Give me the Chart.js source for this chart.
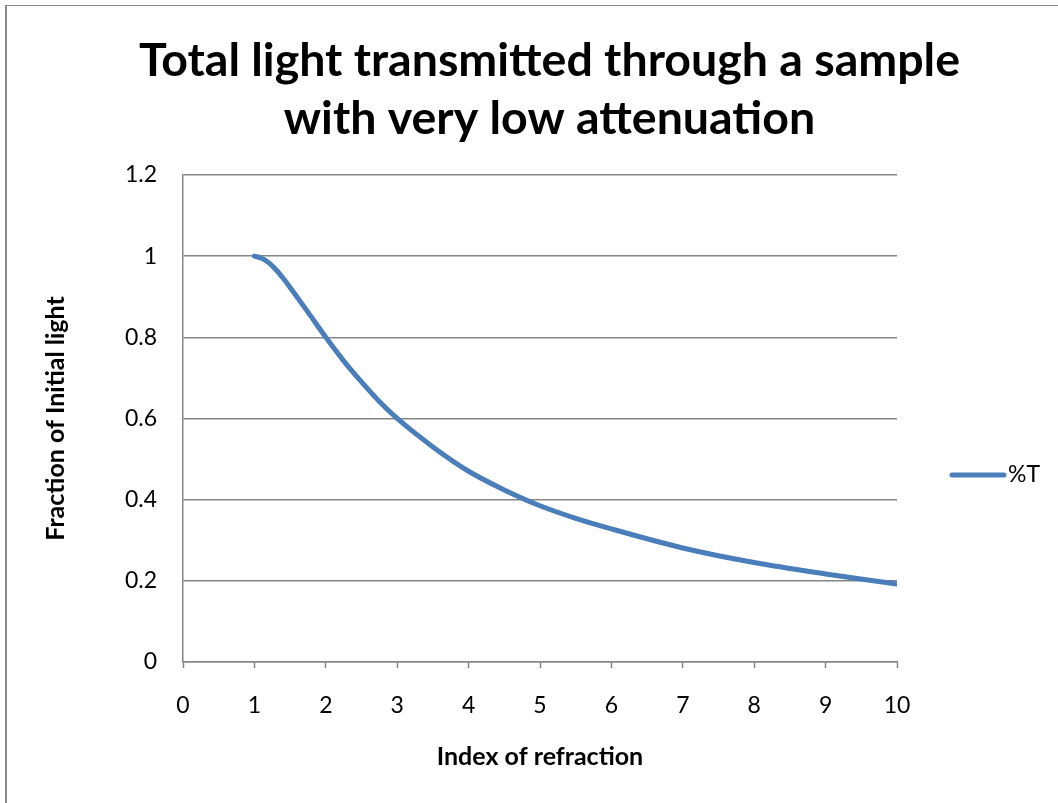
<!DOCTYPE html>
<html>
<head>
<meta charset="utf-8">
<script src="https://cdn.jsdelivr.net/npm/chart.js@4.4.1/dist/chart.umd.min.js"></script>
<style>
  html, body { margin: 0; padding: 0; background: #fff; }
  #wrap { position: relative; width: 1058px; height: 803px; }
  #frame { position: absolute; left: 5px; top: 5px; width: 1100px; height: 900px;
           border-left: 2px solid #8a8a8a; border-top: 1px solid #8a8a8a; }
  canvas { position: absolute; left: 0; top: 0; }
</style>
</head>
<body>
<div id="wrap">
  <div id="frame"></div>
  <canvas id="c" width="1058" height="803"></canvas>
</div>
<script>
const chartTitle = ['Total light transmitted through a sample', 'with very low attenuation'];
const seriesName = '%T';
const xTitle = 'Index of refraction';
const yTitle = 'Fraction of Initial light';

const indexValues = [1, 1.1, 1.2, 1.3, 1.4, 1.5, 1.75, 2, 2.25, 2.5, 2.75, 3, 3.5, 4, 4.5, 5, 5.5, 6, 7, 8, 9, 10];
const transmitted = [1, 0.995, 0.984, 0.967, 0.946, 0.923, 0.862, 0.8, 0.742, 0.69, 0.642, 0.6, 0.53, 0.47, 0.424, 0.385, 0.354, 0.328, 0.281, 0.245, 0.217, 0.192];

const xTickLabels = ['0','1','2','3','4','5','6','7','8','9','10'];
const yTickLabels = ['0','0.2','0.4','0.6','0.8','1','1.2'];

const FONT = 'Lato, "Open Sans", sans-serif';
const LINE_COLOR = '#4A7EBB';
const GRID = '#868686';

const legendPlugin = {
  id: 'sideLegend',
  afterDraw(chart) {
    const ctx = chart.ctx;
    const ds = chart.data.datasets[0];
    const y = 475;
    ctx.save();
    ctx.strokeStyle = ds.borderColor;
    ctx.lineWidth = 5;
    ctx.lineCap = 'round';
    ctx.beginPath();
    ctx.moveTo(952, y);
    ctx.lineTo(1004, y);
    ctx.stroke();
    ctx.fillStyle = '#000';
    ctx.font = '23px ' + FONT;
    ctx.textBaseline = 'middle';
    ctx.textAlign = 'left';
    ctx.fillText(ds.label, 1008, y);
    ctx.restore();
  }
};

new Chart(document.getElementById('c'), {
  type: 'scatter',
  data: {
    datasets: [{
      label: seriesName,
      data: indexValues.map((x, i) => ({x: x, y: transmitted[i]})),
      showLine: true,
      borderColor: LINE_COLOR,
      backgroundColor: LINE_COLOR,
      borderWidth: 5,
      borderCapStyle: 'round',
      borderJoinStyle: 'round',
      pointRadius: 0,
      pointHoverRadius: 0,
      cubicInterpolationMode: 'monotone',
      xAxisID: 'x',
      yAxisID: 'y'
    }]
  },
  options: {
    responsive: false,
    animation: false,
    layout: { padding: { left: 46, right: 5, top: 5, bottom: 0 } },
    plugins: {
      legend: { display: false },
      tooltip: { enabled: false },
      title: {
        display: true,
        text: chartTitle,
        color: '#000',
        font: { family: FONT, size: 46.5, weight: 'bold', lineHeight: 1.247 },
        padding: { top: 27, bottom: 27 }
      }
    },
    scales: {
      x: {
        type: 'linear',
        position: 'bottom',
        min: 0, max: 10,
        afterFit(s) { s.height = 141; },
        ticks: {
          stepSize: 1,
          color: '#000',
          font: { family: FONT, size: 23 },
          padding: 24,
          maxRotation: 0,
          callback: (v, i) => xTickLabels[i]
        },
        grid: { drawOnChartArea: false, drawTicks: true, tickLength: 6, tickColor: GRID, tickWidth: 1.5 },
        border: { display: true, color: GRID, width: 1.5 },
        title: {
          display: true, text: xTitle, color: '#000',
          font: { family: FONT, size: 25, weight: 'bold', lineHeight: 1.2 },
          padding: { top: 0, bottom: 31 }
        }
      },
      y: {
        type: 'linear',
        position: 'left',
        min: 0, max: 1.2,
        afterFit(s) { s.width = 137; },
        ticks: {
          stepSize: 0.2,
          color: '#000',
          font: { family: FONT, size: 23 },
          padding: 26,
          callback: (v, i) => yTickLabels[i]
        },
        grid: { color: GRID, lineWidth: 1.5, drawTicks: false },
        border: { display: true, color: GRID, width: 1.5 },
        title: {
          display: true, text: yTitle, color: '#000',
          font: { family: FONT, size: 25, weight: 'bold', lineHeight: 0.4 },
          padding: { top: 5, bottom: 0 }
        }
      },
      legendSpace: {
        type: 'linear',
        position: 'right',
        display: true,
        min: 0, max: 1,
        afterFit(s) { s.width = 156; },
        ticks: { display: false },
        grid: { display: false, drawTicks: false },
        border: { display: false },
        title: { display: false }
      }
    }
  },
  plugins: [legendPlugin]
});
</script>
</body>
</html>
